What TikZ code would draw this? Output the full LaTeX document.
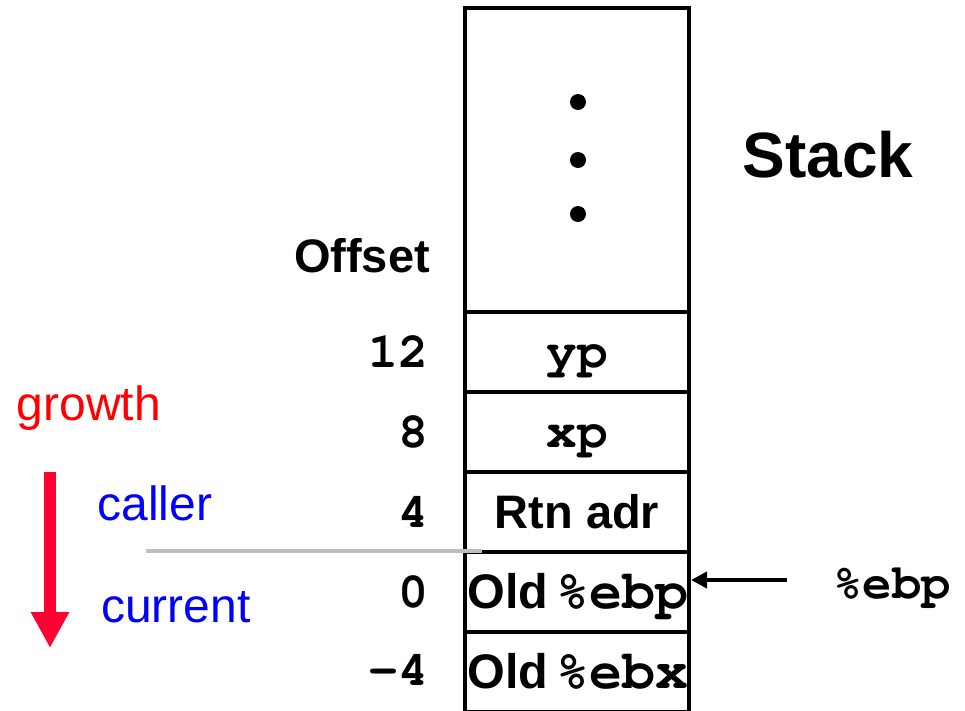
\documentclass[tikz,border=0pt]{standalone}
\usepackage{fontspec}
\setmainfont{Liberation Sans}
\newfontfamily\codefont{texgyrecursor}[Extension=.otf, UprightFont=*-regular, BoldFont=*-bold]
\usetikzlibrary{arrows.meta}
\definecolor{growred}{RGB}{255,0,51}
\definecolor{sepgray}{RGB}{190,190,190}
\tikzset{
  cell/.style={draw=black, line width=4pt, minimum width=224pt, minimum height=80pt,
    inner sep=0pt, font=\bfseries\fontsize{47}{47}\selectfont},
  oldtxt/.style={font=\bfseries\fontsize{48.5}{48.5}\selectfont},
  offnum/.style={anchor=east, font=\codefont\bfseries\fontsize{50}{50}\selectfont},
  bluelbl/.style={text=blue, font=\fontsize{48}{48}\selectfont},
  code/.style={font=\codefont\bfseries\fontsize{49}{49}\selectfont},
}
\newcommand{\reg}[2][51]{{\codefont\bfseries\fontsize{#1}{#1}\selectfont #2}}
\begin{document}
\begin{tikzpicture}[x=1pt,y=-1pt]
  \useasboundingbox (0,0) rectangle (965,710);
  \clip (0,0) rectangle (965,710);
  % stack frames, top to bottom
  \node[cell, minimum height=304pt] (upper) at (577,160) {};
  \node[cell] (yp)  at (577,352) {};
  \node[cell] (xp)  at (577,432) {};
  \node[cell] (rtn) at (577,512) {Rtn adr};
  \node[cell] (ebp) at (577,592) {};
  \node[cell] (ebx) at (577,672) {};
  % cell contents, set on a common baseline
  \node[anchor=base, inner sep=0pt] (yptxt) at (577,367) {\reg{yp}};
  \node[anchor=base, inner sep=0pt] (xptxt) at (577,447) {\reg{xp}};
  \node[anchor=base, inner sep=0pt, oldtxt] (ebptxt) at (578,608) {Old\,\reg[55]{\%ebp}};
  \node[anchor=base, inner sep=0pt, oldtxt] (ebxtxt) at (578,688) {Old\,\reg[55]{\%ebx}};
  % ellipsis dots in the upper region
  \foreach \yy/\nm in {102/d1,160/d2,214/d3}
    \fill (578,\yy) circle (8pt) coordinate (\nm);
  % titles
  \node[font=\bfseries\fontsize{64}{64}\selectfont] (stack) at (828,155) {Stack};
  \node[font=\bfseries\fontsize{47}{47}\selectfont] (offset) at (362,256) {Offset};
  % offsets
  \node[offnum] (o12) at (432,352) {12};
  \node[offnum] (o8)  at (432,432) {8};
  \node[offnum] (o4)  at (432,512) {4};
  \node[offnum] (o0)  at (432,592) {0};
  \node[offnum] (om4) at (432,670) {-4};
  % frame pointer
  \node[code] (ebplbl) at (892,588) {\%ebp};
  \coordinate (ebptail) at (787,580);
  \draw[line width=4pt, -{Triangle[length=16pt,width=16pt]}] (ebptail) -- (ebp.east |- ebptail);
  % caller/current boundary
  \coordinate (sepL) at (146,551);
  \coordinate (sepR) at (482,551);
  \draw[sepgray, line width=4pt] (sepL) -- (sepR);
  % growth direction
  \node[text=red, font=\fontsize{48}{48}\selectfont] (growth) at (89,408) {growth};
  \node[bluelbl] (caller) at (155,503) {caller};
  \node[bluelbl] (current) at (176,607) {current};
  \coordinate (gtop) at (50,472);
  \coordinate (gbot) at (50,648);
  \draw[growred, line width=12pt, -{Triangle[length=36pt,width=36pt]}] (gtop) -- (gbot);
\end{tikzpicture}
\end{document}
